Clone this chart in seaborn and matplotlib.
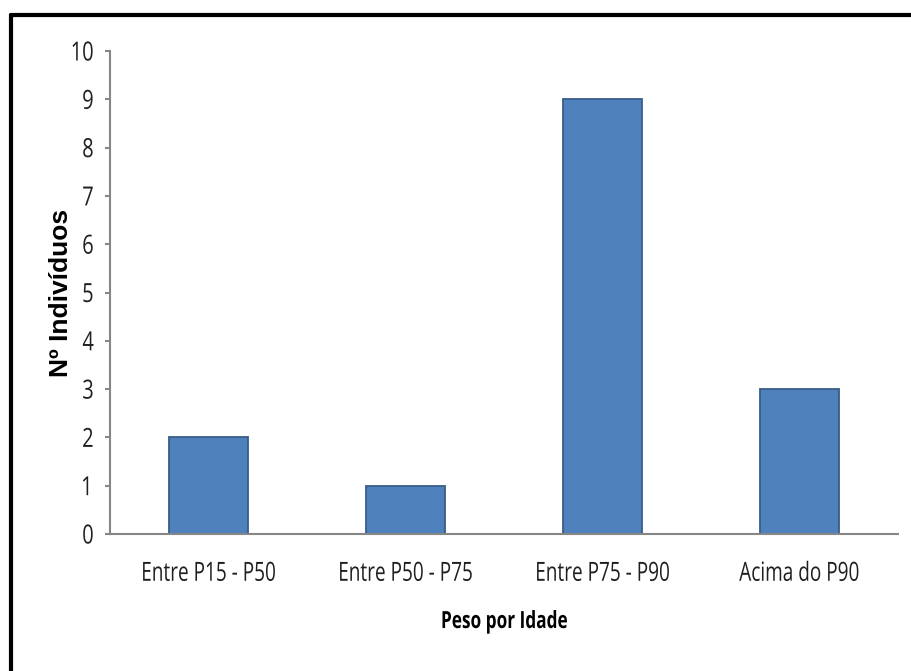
import matplotlib
matplotlib.use("Agg")
import matplotlib.pyplot as plt
import seaborn as sns
import pandas as pd
from matplotlib.lines import Line2D
from matplotlib.patheffects import AbstractPathEffect
from matplotlib.transforms import Affine2D

categories = ["Entre P15 - P50", "Entre P50 - P75", "Entre P75 - P90", "Acima do P90"]
counts = [2, 1, 9, 3]
y_ticks = list(range(0, 11))


class Condense(AbstractPathEffect):
    """Narrow the glyphs along the text direction, keeping one edge fixed."""

    def __init__(self, sx, anchor="center"):
        super().__init__()
        self.sx = sx
        self.anchor = anchor

    def draw_path(self, renderer, gc, tpath, affine, rgbFace=None):
        ext = tpath.get_extents()
        if self.anchor == "right":
            cx = ext.x1
        elif self.anchor == "left":
            cx = ext.x0
        else:
            cx = 0.5 * (ext.x0 + ext.x1)
        squeeze = Affine2D().translate(-cx, 0).scale(self.sx, 1).translate(cx, 0)
        renderer.draw_path(gc, tpath, squeeze + affine, rgbFace)


sns.set_theme(style="white")
plt.rcParams["font.family"] = ["Open Sans", "DejaVu Sans"]

df = pd.DataFrame({"faixa": categories, "n": counts})

fig = plt.figure(figsize=(9.11, 6.71), dpi=100)
ax = fig.add_axes([110 / 911, 1 - 534 / 671, (898 - 110) / 911, (534 - 51) / 671])

sns.barplot(data=df, x="faixa", y="n", ax=ax, color="#4F81BD",
            saturation=1, width=0.40, edgecolor="#385D8A", linewidth=1.3)

ax.set_ylim(0, 10)
ax.set_xlim(-0.5, len(categories) - 0.5)
ax.set_yticks(y_ticks)
ax.set_yticklabels([str(t) for t in y_ticks], fontsize=19, color="#1F1F1F")
ax.tick_params(axis="y", which="both", left=True, length=3.5, width=1.5,
               color="#868686", pad=8)
ax.tick_params(axis="x", bottom=False, labelsize=19, labelcolor="#1F1F1F", pad=14)

for lab in ax.get_yticklabels():
    lab.set_path_effects([Condense(0.76, "right")])
for lab in ax.get_xticklabels():
    lab.set_path_effects([Condense(0.72, "center")])

for side in ("top", "right"):
    ax.spines[side].set_visible(False)
for side in ("left", "bottom"):
    ax.spines[side].set_color("#868686")
    ax.spines[side].set_linewidth(1.5)

ax.set_xlabel("Peso por Idade", fontsize=17, fontweight="bold", color="#000000")
ax.xaxis.label.set_va("baseline")
ax.xaxis.set_label_coords(0.5, (534 - 628) / 483)
ax.xaxis.label.set_path_effects([Condense(0.73, "center")])

ax.set_ylabel("Nº Indivíduos", fontsize=19, fontweight="bold", color="#000000",
              family=["Liberation Sans", "DejaVu Sans"])
ax.yaxis.label.set_rotation_mode("anchor")
ax.yaxis.label.set_ha("center")
ax.yaxis.label.set_va("baseline")
ax.yaxis.set_label_coords((68 - 110) / 788, 0.5)

# frame lines along the top and left edge of the figure
fig.add_artist(Line2D([11 / 911, 1], [1 - 15 / 671, 1 - 15 / 671],
                      transform=fig.transFigure, color="black", lw=3))
fig.add_artist(Line2D([11 / 911, 11 / 911], [0, 1 - 15 / 671],
                      transform=fig.transFigure, color="black", lw=3))

fig.savefig("out.png", dpi=100)
